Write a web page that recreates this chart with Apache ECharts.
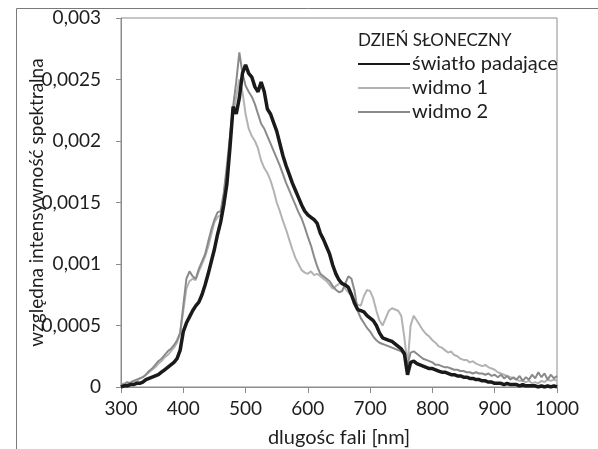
<!DOCTYPE html>
<html>
<head>
<meta charset="utf-8">
<script src="https://cdn.jsdelivr.net/npm/echarts@6/dist/echarts.min.js"></script>
<style>html,body{margin:0;padding:0;background:#fff;}#c{width:598px;height:449px;}</style>
</head>
<body>
<div id="c"></div>
<script>
// wavelength grid: 300..1000 nm every 5 nm
var wavelengths = [];
for (var w = 300; w <= 1000; w += 5) wavelengths.push(w);

var swiatlo = [
0.00000,0.00001,0.00001,0.00002,0.00002,0.00003,0.00003,0.00004,0.00006,0.00007,
0.00008,0.00009,0.00010,0.00012,0.00014,0.00016,0.00018,0.00020,0.00023,0.00030,
0.00045,0.00052,0.00057,0.00062,0.00066,0.00069,0.00075,0.00083,0.00092,0.00102,
0.00112,0.00124,0.00134,0.00148,0.00165,0.00195,0.00228,0.00222,0.00235,0.00255,
0.00262,0.00255,0.00252,0.00244,0.00240,0.00248,0.00240,0.00226,0.00222,0.00215,
0.00208,0.00198,0.00188,0.00180,0.00173,0.00166,0.00160,0.00154,0.00148,0.00143,
0.00140,0.00138,0.00136,0.00133,0.00125,0.00120,0.00114,0.00108,0.00099,0.00092,
0.00087,0.00084,0.00083,0.00081,0.00075,0.00068,0.00063,0.00062,0.00061,0.00058,
0.00056,0.00054,0.00050,0.00044,0.00040,0.00039,0.00038,0.00037,0.00035,0.00033,
0.00031,0.00027,0.00010,0.00020,0.00021,0.00019,0.00018,0.00017,0.00016,0.00015,
0.00015,0.00014,0.00013,0.00012,0.00012,0.00011,0.00010,0.00010,0.00009,0.00009,
0.00008,0.00008,0.00007,0.00007,0.00006,0.00006,0.00005,0.00005,0.00004,0.00004,
0.00003,0.00003,0.00003,0.00002,0.00003,0.00002,0.00002,0.00002,0.00001,0.00002,
0.00001,0.00001,0.00001,0.00001,0.00000,0.00001,0.00000,0.00001,0.00000,0.00001,
0.00000
];

var widmo1 = [
0.00002,0.00003,0.00002,0.00004,0.00005,0.00004,0.00007,0.00008,0.00010,0.00012,
0.00014,0.00016,0.00019,0.00021,0.00024,0.00026,0.00029,0.00032,0.00036,0.00044,
0.00062,0.00080,0.00086,0.00088,0.00087,0.00094,0.00100,0.00106,0.00114,0.00124,
0.00134,0.00138,0.00140,0.00155,0.00175,0.00198,0.00222,0.00236,0.00250,0.00240,
0.00222,0.00210,0.00204,0.00200,0.00194,0.00184,0.00178,0.00174,0.00168,0.00160,
0.00150,0.00143,0.00135,0.00128,0.00120,0.00112,0.00105,0.00100,0.00095,0.00093,
0.00092,0.00094,0.00091,0.00092,0.00090,0.00088,0.00086,0.00083,0.00080,0.00082,
0.00084,0.00085,0.00080,0.00077,0.00074,0.00070,0.00067,0.00066,0.00074,0.00079,
0.00078,0.00072,0.00062,0.00054,0.00050,0.00056,0.00062,0.00064,0.00063,0.00062,
0.00058,0.00040,0.00018,0.00050,0.00058,0.00054,0.00050,0.00046,0.00043,0.00041,
0.00038,0.00036,0.00033,0.00032,0.00030,0.00028,0.00029,0.00026,0.00025,0.00023,
0.00022,0.00022,0.00020,0.00021,0.00019,0.00018,0.00017,0.00018,0.00016,0.00015,
0.00014,0.00012,0.00011,0.00010,0.00009,0.00008,0.00007,0.00006,0.00005,0.00005,
0.00004,0.00005,0.00003,0.00004,0.00003,0.00005,0.00004,0.00006,0.00005,0.00006,
0.00005
];

var widmo2 = [
0.00002,0.00002,0.00004,0.00003,0.00005,0.00006,0.00007,0.00008,0.00010,0.00013,
0.00015,0.00018,0.00021,0.00023,0.00026,0.00029,0.00031,0.00034,0.00038,0.00044,
0.00066,0.00088,0.00094,0.00090,0.00088,0.00096,0.00102,0.00108,0.00118,0.00128,
0.00136,0.00142,0.00143,0.00158,0.00180,0.00204,0.00228,0.00248,0.00272,0.00255,
0.00245,0.00240,0.00236,0.00230,0.00222,0.00214,0.00210,0.00204,0.00198,0.00192,
0.00186,0.00180,0.00173,0.00166,0.00160,0.00154,0.00148,0.00142,0.00137,0.00130,
0.00122,0.00115,0.00106,0.00098,0.00092,0.00090,0.00088,0.00086,0.00082,0.00079,
0.00077,0.00078,0.00084,0.00090,0.00088,0.00078,0.00062,0.00056,0.00052,0.00048,
0.00045,0.00041,0.00038,0.00036,0.00035,0.00034,0.00033,0.00032,0.00031,0.00030,
0.00029,0.00026,0.00018,0.00028,0.00029,0.00027,0.00025,0.00023,0.00022,0.00021,
0.00020,0.00018,0.00018,0.00017,0.00016,0.00016,0.00015,0.00014,0.00014,0.00013,
0.00013,0.00012,0.00012,0.00011,0.00012,0.00011,0.00011,0.00010,0.00011,0.00009,
0.00010,0.00008,0.00010,0.00007,0.00009,0.00006,0.00008,0.00006,0.00009,0.00005,
0.00008,0.00006,0.00010,0.00007,0.00012,0.00008,0.00011,0.00006,0.00010,0.00007,
0.00009
];

var xTicks = [300, 400, 500, 600, 700, 800, 900, 1000];
var yTicks = [0, 0.0005, 0.001, 0.0015, 0.002, 0.0025, 0.003];

function pairs(vals) {
  return wavelengths.map(function (w, i) { return [w, vals[i]]; });
}

var FONT = 'Lato';
var TXT = '#1e1e1e';
var chart = echarts.init(document.getElementById('c'));
chart.setOption({
  animation: false,
  backgroundColor: '#fff',
  textStyle: { fontFamily: FONT },
  graphic: [{
    type: 'rect', left: 14, top: 6, silent: true,
    shape: { x: 0, y: 0, width: 700, height: 600 },
    style: { fill: 'none', stroke: '#7a7a7a', lineWidth: 1 }
  }],
  title: {
    text: 'DZIEŃ SŁONECZNY', left: 353, top: 27,
    textStyle: { fontFamily: FONT, fontSize: 17, fontWeight: 'normal', color: TXT }
  },
  legend: {
    orient: 'vertical', left: 352, top: 49,
    itemWidth: 52, itemHeight: 14, itemGap: 4,
    itemStyle: { opacity: 0 },
    data: ['światło padające', 'widmo 1', 'widmo 2'],
    textStyle: { fontFamily: FONT, fontSize: 20, color: TXT, padding: [0, 0, 0, -3] }
  },
  grid: {
    left: 121, right: 41, top: 18, bottom: 62,
    outerBoundsMode: 'none', containLabel: false,
    show: true, borderColor: '#8c8c8c', borderWidth: 1, backgroundColor: 'transparent'
  },
  xAxis: {
    type: 'value', min: 300, max: 1000, interval: 100,
    name: 'dlugośc fali [nm]', nameLocation: 'middle', nameGap: 41, nameMoveOverlap: false,
    nameTextStyle: { fontFamily: FONT, fontSize: 20, color: TXT },
    axisLine: { show: true, lineStyle: { color: '#8c8c8c', width: 1 } },
    axisTick: { show: true, length: 6, lineStyle: { color: '#8c8c8c' } },
    splitLine: { show: false },
    axisLabel: {
      fontFamily: FONT, fontSize: 19, color: TXT, margin: 12,
      customValues: xTicks, formatter: function (v) { return String(v); }
    }
  },
  yAxis: {
    type: 'value', min: 0, max: 0.003, interval: 0.0005,
    name: 'względna intensywność spektralna', nameLocation: 'middle', nameGap: 75, nameMoveOverlap: false,
    nameTextStyle: { fontFamily: FONT, fontSize: 19, color: TXT },
    axisLine: { show: true, lineStyle: { color: '#8c8c8c', width: 1 } },
    axisTick: { show: true, length: 5, lineStyle: { color: '#8c8c8c' } },
    splitLine: { show: false },
    axisLabel: {
      fontFamily: FONT, fontSize: 19, color: TXT, margin: 20,
      customValues: yTicks,
      formatter: function (v) {
        var s = String(parseFloat(v.toFixed(4)));
        return s.replace('.', ',');
      }
    }
  },
  series: [
    {
      name: 'widmo 1', type: 'line', data: pairs(widmo1), showSymbol: false, symbol: 'none',
      lineStyle: { color: '#b3b3b3', width: 2 }, itemStyle: { color: '#b3b3b3' }, z: 2
    },
    {
      name: 'widmo 2', type: 'line', data: pairs(widmo2), showSymbol: false, symbol: 'none',
      lineStyle: { color: '#8a8a8a', width: 2 }, itemStyle: { color: '#8a8a8a' }, z: 3
    },
    {
      name: 'światło padające', type: 'line', data: pairs(swiatlo), showSymbol: false, symbol: 'none',
      lineStyle: { color: '#1a1a1a', width: 3.5 }, itemStyle: { color: '#1a1a1a' }, z: 4
    }
  ]
});
</script>
</body>
</html>
